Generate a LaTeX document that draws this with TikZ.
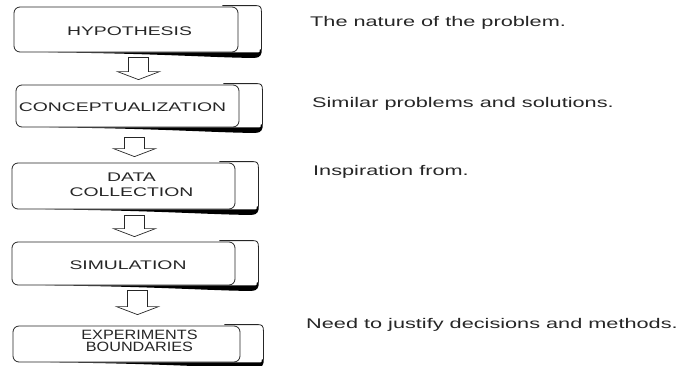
\documentclass[tikz,border=0pt]{standalone}
\usepackage{fontspec}
\setmainfont{Liberation Sans}[FakeStretch=1.55]
\newfontfamily\narrowsans{Liberation Sans}[FakeStretch=1.2]
\usetikzlibrary{calc}

% back sheet and dark shadow behind a stage box
\newcommand{\stageback}[1]{%
\draw [stageline] ($(#1.north east)+(-16,-1)$) -- ($(#1.north east)+(18,-1)$) .. controls ($(#1.north east)+(22,-1)$) and ($(#1.north east)+(23,1)$) .. ($(#1.north east)+(23,5)$) -- ($(#1.south east)+(23,-3)$) ;
\fill [black] ($(#1.south east)+(-190,0)$) .. controls ($(#1.south east)+(-80,1)$) and ($(#1.south east)+(-20,5.5)$) .. ($(#1.south east)+(16,5.5)$) .. controls ($(#1.south east)+(22,5.5)$) and ($(#1.south east)+(23.4,2)$) .. ($(#1.south east)+(23.4,-3)$) -- ($(#1.south east)+(21.5,-3)$) .. controls ($(#1.south east)+(21.5,0)$) .. ($(#1.south east)+(18,0)$) -- cycle ;
}

\begin{document}
\begin{tikzpicture}[x=1pt,y=1pt,yscale=-1,
  stagebox/.style={draw=black!85, line width=0.8pt, fill=white, rounded corners=6pt, inner sep=0pt},
  stageline/.style={draw=black!85, line width=0.8pt},
  stagetext/.style={inner sep=0pt, align=center, text=black!85, font=\fontsize{12.5}{15}\selectfont},
  notetext/.style={inner sep=0pt, anchor=base west, text=black!85, font=\fontsize{14}{16}\selectfont},
  blockarrow/.style 2 args={draw=black!85, line width=0.7pt, fill=white, to path={
    ($(\tikztostart.south -| \tikztotarget.north)+(1,#1)$) -- ($(\tikztotarget.north)+(1,-#2-8)$) -- ($(\tikztotarget.north)+(-10,-#2-8)$) -- ($(\tikztotarget.north)+(11,-#2)$) -- ($(\tikztotarget.north)+(32,-#2-8)$) -- ($(\tikztotarget.north)+(21,-#2-8)$) -- ($(\tikztostart.south -| \tikztotarget.north)+(21,#1)$) -- cycle}}]
\useasboundingbox (0,0) rectangle (678,365);

%Shape: Rounded Rect (stages)
\node [stagebox, minimum width=224pt, minimum height=45pt] (hyp) at (126,29.5) {};
\node [stagebox, minimum width=223pt, minimum height=42pt] (con) at (127.5,106) {};
\node [stagebox, minimum width=223pt, minimum height=46pt] (dat) at (123.5,186) {};
\node [stagebox, minimum width=223pt, minimum height=43pt] (sim) at (123.5,263.5) {};
\node [stagebox, minimum width=227pt, minimum height=36pt] (exp) at (126.5,344) {};

%Shape: back sheets
\stageback{hyp}
\stageback{con}
\stageback{dat}
\stageback{sim}
\stageback{exp}

%Text in the stages
\node [stagetext] (hyptext) at (129.5,31.5) {HYPOTHESIS};
\node [stagetext] (context) at (122.5,107) {CONCEPTUALIZATION};
\node [stagetext] (dattext) at (131.5,184.7) {DATA\\COLLECTION};
\node [stagetext] (simtext) at (128,265) {SIMULATION};
\node [stagetext, font=\narrowsans\fontsize{13.5}{12}\selectfont] (exptext) at (139.5,341) {EXPERIMENTS\\BOUNDARIES};

%Block arrows between the stages
\draw [blockarrow={5}{5}] (hyp) to (con) ;
\draw [blockarrow={10}{6}] (con) to (dat) ;
\draw [blockarrow={6}{5}] (dat) to (sim) ;
\draw [blockarrow={5}{11}] (sim) to (exp) ;

%Notes on the right
\node [notetext] (note1) at (310,26.5) {The nature of the problem.};
\node [notetext] (note2) at (312,107.5) {Similar problems and solutions.};
\node [notetext] (note3) at (313,175) {Inspiration from.};
\node [notetext] (note4) at (306,328.5) {Need to justify decisions and methods.};
\end{tikzpicture}
\end{document}
